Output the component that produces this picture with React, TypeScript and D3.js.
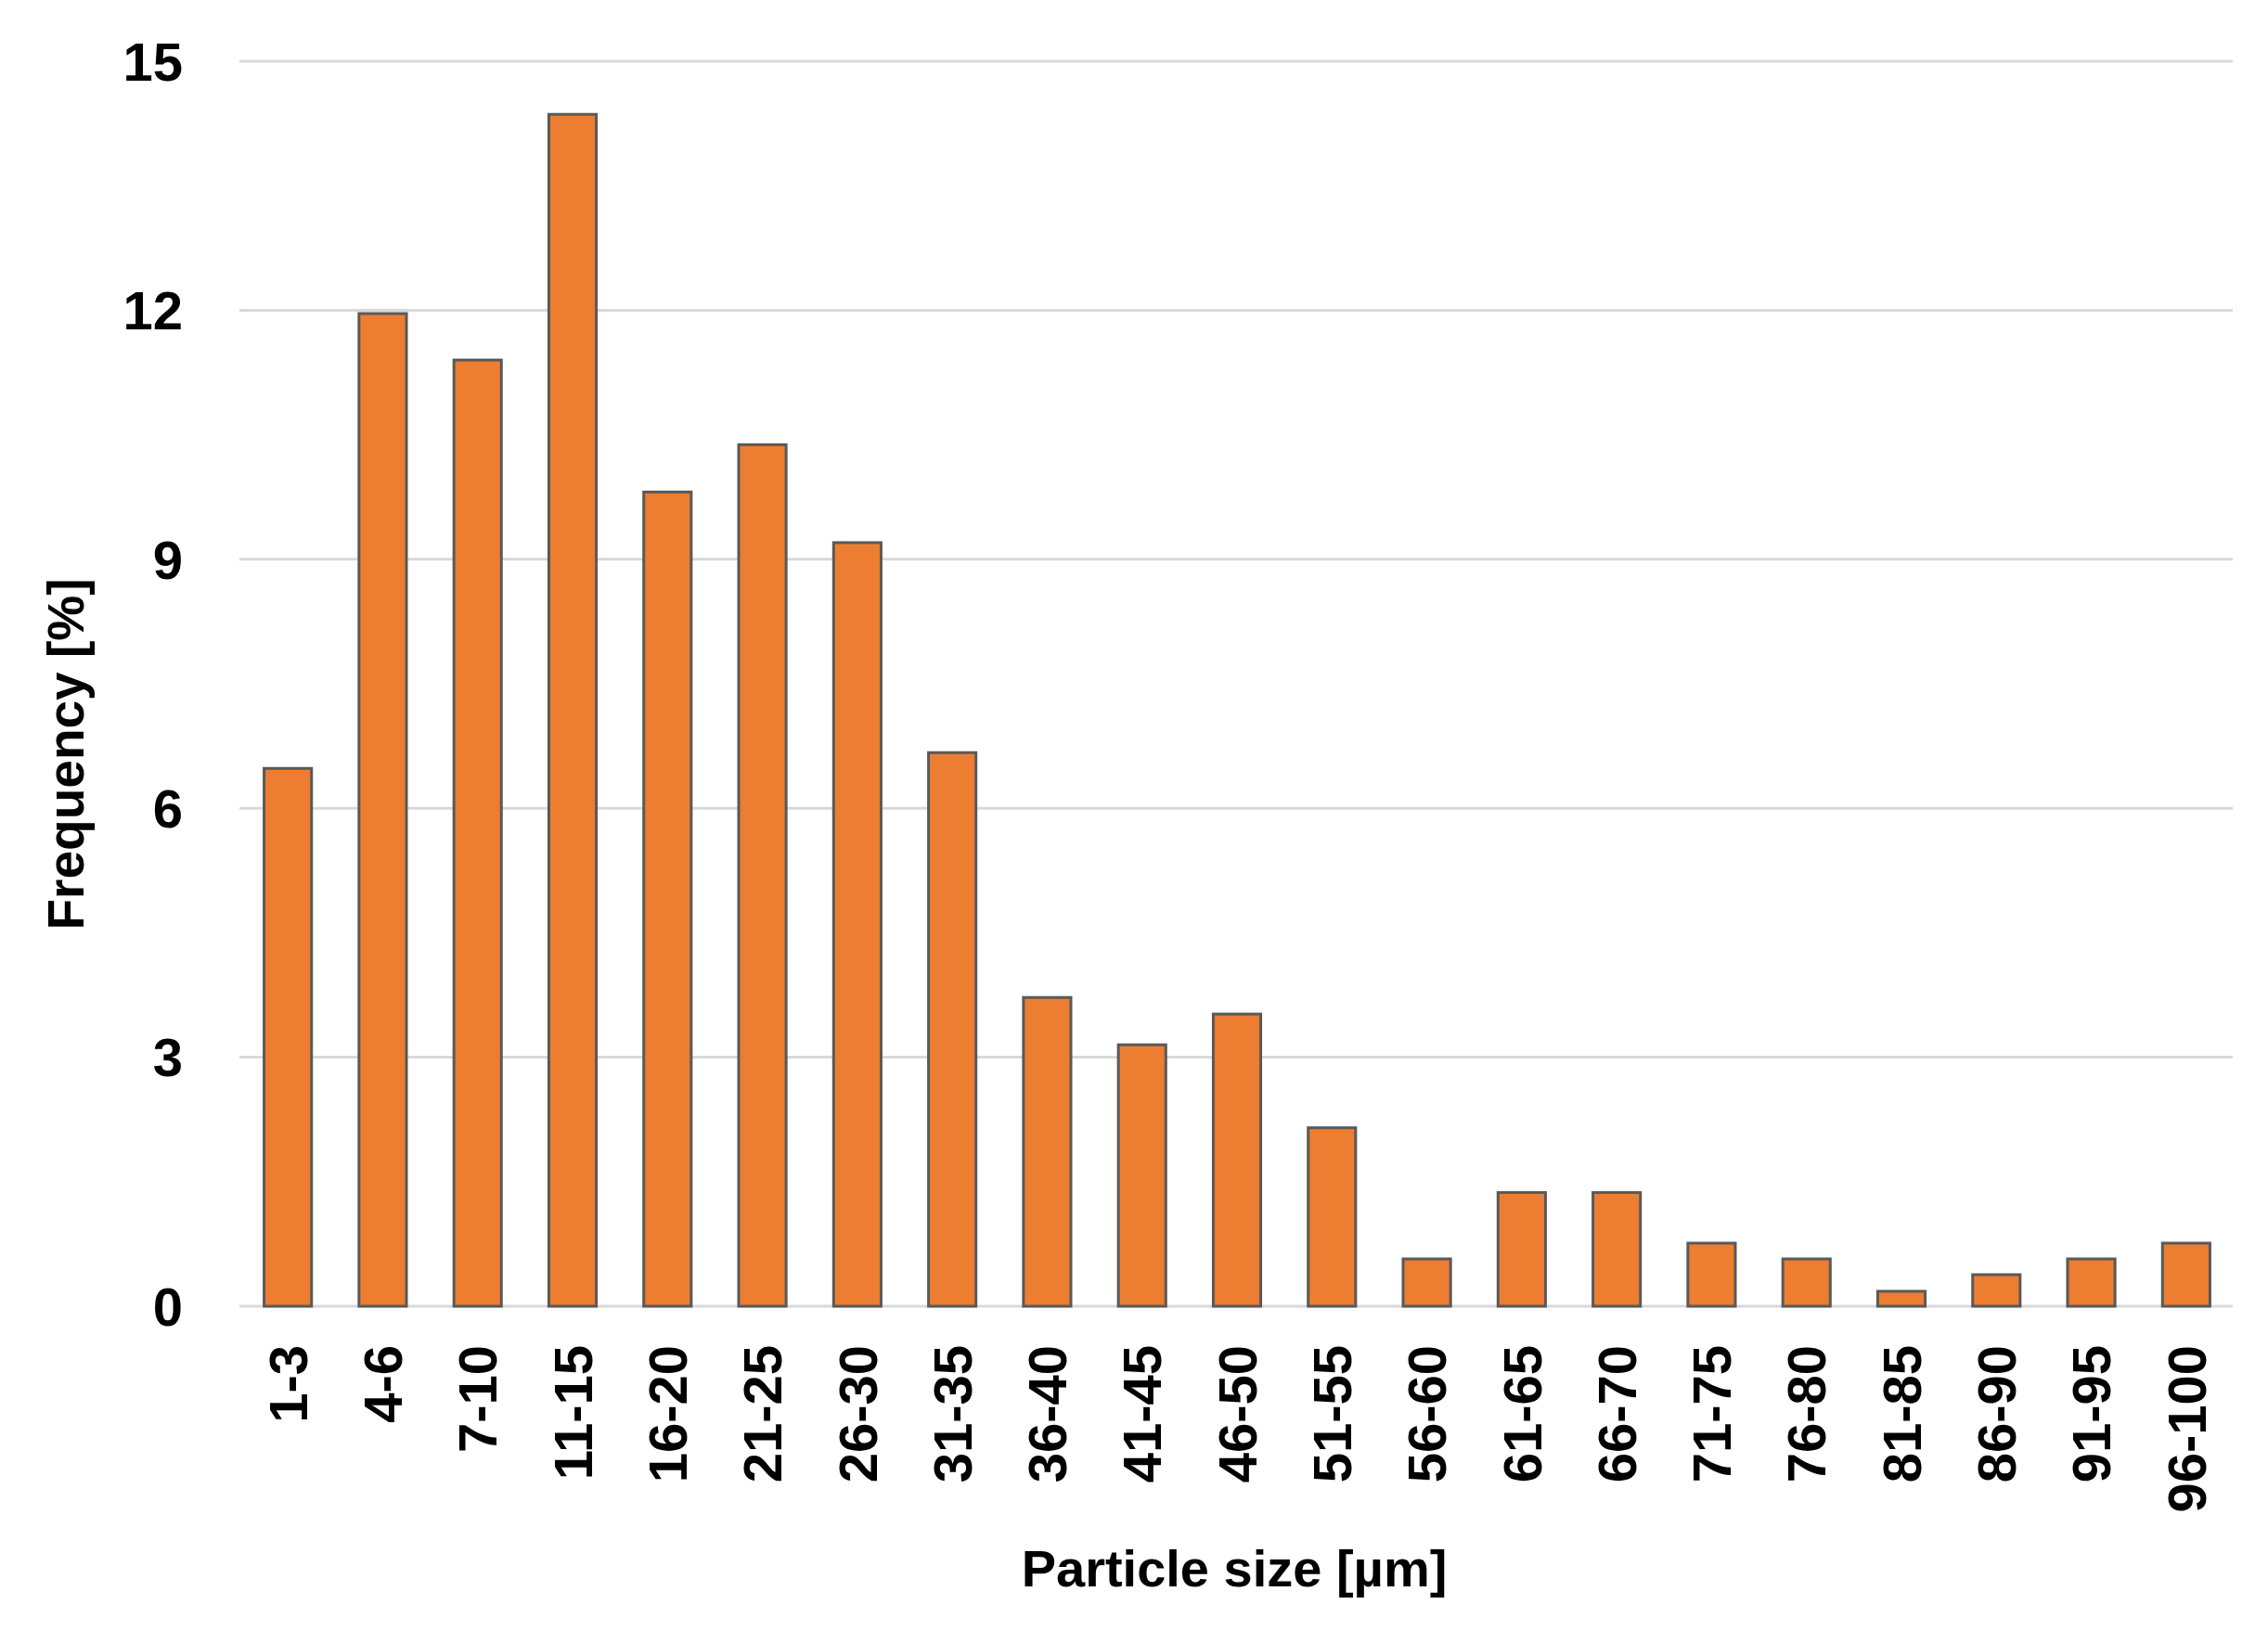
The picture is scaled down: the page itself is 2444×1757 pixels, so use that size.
import React from "react";
import * as d3 from "d3";

const categories = ["1-3","4-6","7-10","11-15","16-20","21-25","26-30","31-35","36-40","41-45","46-50","51-55","56-60","61-65","66-70","71-75","76-80","81-85","86-90","91-95","96-100"];
const frequency = [6.48, 11.96, 11.4, 14.36, 9.81, 10.38, 9.2, 6.67, 3.72, 3.15, 3.52, 2.15, 0.57, 1.37, 1.37, 0.76, 0.57, 0.18, 0.38, 0.57, 0.76];
const yTicks = [0, 3, 6, 9, 12, 15];
const xTitle = "Particle size [µm]";
const yTitle = "Frequency [%]";

const W = 2444;
const H = 1757;
const M = { left: 258, right: 2406, top: 66, bottom: 1408 };
const FONT = "'Liberation Sans', Arial, sans-serif";

export default function App() {
  const x = d3.scaleBand<string>().domain(categories).range([M.left, M.right]).paddingInner(0.5).paddingOuter(0.25);
  const y = d3.scaleLinear().domain([0, 15]).range([M.bottom, M.top]);
  const fs = 58;
  const cap = fs * 0.716;
  return (
    <svg width={W} height={H} style={{ position: "absolute", left: 0, top: 0, background: "#fff" }} fontFamily={FONT}>
      <rect x={0} y={0} width={W} height={H} fill="#fff" />
      {yTicks.map((t) => (
        <g key={t}>
          <line x1={M.left} x2={M.right} y1={y(t)} y2={y(t)} stroke="#d9d9d9" strokeWidth={3} />
          <text x={197} y={y(t) + cap / 2} textAnchor="end" fontSize={fs} fontWeight="bold" fill="#000">{t}</text>
        </g>
      ))}
      {categories.map((c, i) => (
        <rect key={c} x={x(c)! + 1} y={y(frequency[i])} width={x.bandwidth()} height={y(0) - y(frequency[i])}
          fill="#ED7D31" stroke="#595959" strokeWidth={3} />
      ))}
      {categories.map((c) => {
        const cx = x(c)! + 1 + x.bandwidth() / 2;
        return (
          <text key={c} transform={`translate(${cx + cap / 2},1450) rotate(-90)`} textAnchor="end"
            fontSize={fs} fontWeight="bold" fill="#000">{c}</text>
        );
      })}
      <text x={1330} y={1710} textAnchor="middle" fontSize={56} fontWeight="bold" fill="#000">{xTitle}</text>
      <text transform="translate(90,813) rotate(-90)" textAnchor="middle" fontSize={55} fontWeight="bold" fill="#000">{yTitle}</text>
    </svg>
  );
}
